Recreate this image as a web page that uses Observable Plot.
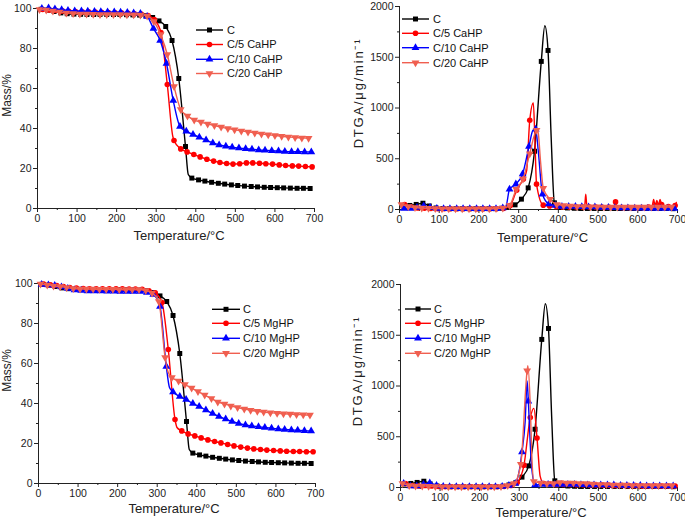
<!DOCTYPE html>
<html><head><meta charset="utf-8">
<script src="https://cdn.jsdelivr.net/npm/d3@7"></script>
<script src="https://cdn.jsdelivr.net/npm/@observablehq/plot@0.6"></script>
<style>
html,body{margin:0;padding:0;background:#fff;}
#root{position:relative;width:685px;height:519px;overflow:hidden;font-family:"Liberation Sans",Arial,sans-serif;}
#root svg{position:absolute;}
</style></head><body><div id="root"></div>
<script>
// ---------- tick labels ----------
const xTicks = [0,100,200,300,400,500,600,700];
const xMinor = [50,150,250,350,450,550,650];
const massTicks = [0,20,40,60,80,100];
const massMinor = [10,30,50,70,90];
const dtgaTicks = [0,500,1000,1500,2000];
const dtgaMinor = [250,750,1250,1750];

// ---------- series names ----------
const caNames = ["C","C/5 CaHP","C/10 CaHP","C/20 CaHP"];
const mgNames = ["C","C/5 MgHP","C/10 MgHP","C/20 MgHP"];

// ---------- marker temperatures (°C) ----------
const gC  = [9,26,42,59,75,92,109,125,142,158,175,192,208,225,241,258,274,291,307,324,340,357,374,390,407,423,440,457,473,490,506,523,540,556,573,589,606,622,639,656,672,689];
const gR  = [13,30,46,63,79,96,113,129,146,162,179,196,212,229,245,262,279,295,312,328,345,362,378,395,411,428,445,461,478,494,511,528,544,561,577,594,611,627,644,660,677,694];
const gB  = [11,28,44,61,77,94,111,127,144,160,177,194,210,227,243,260,277,293,310,326,343,360,376,393,409,426,443,459,476,492,509,526,542,559,575,592,609,625,642,658,675,692];
const gBM = [8,25,41,58,74,91,108,124,141,157,174,191,207,224,240,257,274,290,307,323,340,357,373,390,406,423,440,456,473,489,506,523,539,556,572,589,606,622,639,655,672,689];
const gT  = [5,22,39,56,73,90,107,124,141,158,175,192,209,226,243,260,277,294,311,328,345,362,379,396,413,430,447,464,481,498,515,532,549,566,583,600,617,634,651,668,685];
const gTM = [5,22,38,55,71,88,105,121,138,154,171,188,204,221,237,254,271,287,304,320,337,354,370,387,403,420,437,453,470,486,503,520,536,553,569,586,603,619,636,652,669,686];

// ---------- TGA mass (%) ----------
const tgaC    = [99.6,99.2,98.5,97.8,97.4,97.2,97.1,97.0,97.0,97.0, 97.0,97.0,97.0,96.9,96.8,96.7,96.4,95.5,93.8,91.0, 84.0,65.0,31.0,15.2,14.3,13.7,13.1,12.6,12.2,11.8, 11.5,11.2,11.0,10.8,10.6,10.5,10.4,10.3,10.2,10.1, 10.1,10.0];
const tgaCa5  = [99.5,99.3,99.0,98.8,98.6,98.5,98.4,98.3,98.2,98.1, 98.0,97.9,97.8,97.6,97.4,97.2,96.5,94.5,88.0,62.0, 34.0,29.8,28.3,27.0,25.8,24.6,23.7,23.0,22.5,22.2, 22.4,22.8,22.8,22.6,22.4,22.2,21.8,21.5,21.3,21.2, 21.0,20.8];
const tgaCa10 = [100.0,100.2,99.8,99.4,99.0,98.8,98.7,98.6,98.5,98.4, 98.3,98.2,98.1,98.0,97.8,97.5,96.0,90.0,84.0,72.5, 54.0,41.0,38.6,37.0,35.6,34.2,32.8,31.8,31.1,30.6, 30.2,29.9,29.6,29.3,29.1,28.9,28.7,28.5,28.4,28.4, 28.3,28.3];
const tgaCa20 = [99.5,99.2,98.7,98.2,97.8,97.5,97.3,97.2,97.1,97.0, 97.0,97.0,97.0,96.9,96.9,96.8,96.3,93.5,87.0,77.0, 61.0,49.5,46.3,44.2,43.2,42.3,41.5,40.7,40.0,39.4, 38.8,38.3,37.8,37.3,36.9,36.5,36.1,35.8,35.5,35.3, 35.1];
const tgaMg5  = [99.7,99.3,99.0,98.5,98.0,97.7,97.5,97.4,97.4,97.4, 97.4,97.3,97.3,97.2,97.2,97.1,96.4,95.3,90.5,67.0, 32.0,26.3,24.8,23.8,22.8,21.8,21.0,20.3,19.5,18.8, 18.2,17.7,17.3,17.0,16.7,16.5,16.3,16.1,16.0,16.0, 15.9,15.9];
const tgaMg10 = [99.5,99.3,99.0,98.3,97.5,96.8,96.5,96.3,96.2,96.2, 96.1,96.1,96.0,96.0,96.0,96.0,95.5,94.5,88.5,58.5, 45.8,43.5,42.0,40.0,38.5,36.7,35.0,33.5,32.2,31.0, 30.0,29.3,28.8,28.4,28.0,27.6,27.3,27.0,26.8,26.6, 26.4,26.2];
const tgaMg20 = [99.7,99.3,98.8,98.5,98.0,97.5,97.3,97.2,97.2,97.1, 97.1,97.1,97.0,97.0,97.0,97.0,96.5,95.3,91.0,63.0, 53.0,51.2,49.5,47.7,46.0,44.2,42.5,40.8,39.8,38.8, 38.0,37.2,36.6,36.1,35.7,35.4,35.1,34.9,34.7,34.5, 34.4,34.2];
// extra curve points between markers [T, value]
const tgaCx = [[381,17]];
const tgaCa5x = [[342,36]];
const tgaCa10x = [];
const tgaCa20x = [];
const tgaMg5x = [[350,28]];
const tgaMg10x = [[331,48]];
const tgaMg20x = [[327,56]];

// ---------- DTGA (µg/min) ----------
const dtgaC    = [35,40,50,62,35,15,10,8,8,8, 8,8,8,8,8,12,25,46,102,213, 574,1459,1567,66,20,15,12,10,10,10, 10,10,10,10,10,10,10,10,10,10, 10,8];
const dtgaCa5  = [50,25,15,12,10,8,8,8,8,8, 8,8,8,8,8,10,40,190,300,880, 250,43,35,30,25,25,25,25,25,25, 22,22,75,20,20,20,20,25,40,50, 30,40];
const dtgaCa10 = [10,10,20,35,20,10,8,8,8,8, 8,8,8,8,8,15,200,250,350,620, 790,150,55,40,30,30,30,28,25,25, 20,20,18,15,15,12,12,10,10,10, 10,10];
const dtgaCa20 = [50,30,20,15,12,10,8,8,8,8, 8,8,8,8,10,15,40,200,300,550, 780,210,100,50,40,35,30,30,28,28, 25,25,25,25,25,25,25,25,25,25, 25];
const dtgaMg5  = [40,20,15,20,15,10,8,8,8,8, 8,8,8,8,8,10,20,50,220,690, 487,40,35,30,30,30,28,28,25,25, 25,22,20,20,18,18,15,15,15,15, 15,15];
const dtgaMg10 = [40,15,15,30,45,20,10,8,8,8, 8,8,8,8,8,10,20,40,350,850, 25,30,30,30,30,30,30,28,25,25, 25,25,25,20,20,20,20,15,15,15, 15,15];
const dtgaMg20 = [40,20,15,15,12,10,8,8,8,8, 8,8,8,8,8,10,20,40,230,1150, 60,45,40,40,50,45,45,40,40,35, 30,30,25,25,25,20,20,20,20,20, 20,20];
const dtgaCx = [[366,1810],[382,700]];
const dtgaCa5x = [[320,380],[337,1050],[341,680],[466,25],[469,150],[472,25],[540,20],[548,20],[636,30],[640,100],[643,40],[648,90],[652,40],[656,100],[665,40],[690,30],[697,70]];
const dtgaCa10x = [[268,30],[336,780],[350,550]];
const dtgaCa20x = [[349,760],[355,480]];
const dtgaMg5x = [[337,780],[353,110]];
const dtgaMg10x = [[315,650],[320,1050],[331,220]];
const dtgaMg20x = [[322,1200],[328,800],[332,300]];

// ---------- styles ----------
const triDown = {draw(ctx, size){ const y = -Math.sqrt(size / (Math.sqrt(3) * 3)); const s3 = Math.sqrt(3);
  ctx.moveTo(0, -y * 2); ctx.lineTo(-s3 * y, y); ctx.lineTo(s3 * y, y); ctx.closePath(); }};
const styles = [
  {color: "#000000", symbol: d3.symbolSquare, r: 2.8},
  {color: "#ff0000", symbol: d3.symbolCircle, r: 2.8},
  {color: "#0000ff", symbol: d3.symbolTriangle, r: 2.9},
  {color: "#f05f50", symbol: triDown, r: 2.9}
];
const axisColor = "#222";
const FONT = '"Liberation Sans", Arial, sans-serif';

function series(ts, vs, extra, k) {
  const marks = ts.map((t, i) => ({t, v: vs[i]}));
  const line = marks.concat(extra.map(([t, v]) => ({t, v}))).sort((a, b) => a.t - b.t);
  return {marks, line, ...styles[k]};
}

const root = document.getElementById("root");

function panel(cfg) {
  const marks = [
    Plot.ruleX([0], {stroke: axisColor}),
    Plot.ruleY([cfg.yDomain[0]], {stroke: axisColor}),
    Plot.axisX({ticks: xTicks, tickSize: 4, tickPadding: 2, tickFormat: d => String(d), label: null}),
    Plot.axisX({ticks: xMinor, tickSize: 2, tickFormat: () => "", label: null}),
    Plot.axisY({ticks: cfg.yTicks, tickSize: 4, tickPadding: 2, tickFormat: d => String(d), label: null}),
    Plot.axisY({ticks: cfg.yMinor, tickSize: 2, tickFormat: () => "", label: null}),
    Plot.text([cfg.xTitle], {text: d => d, frameAnchor: "bottom", textAnchor: "middle", dx: cfg.xdx, dy: cfg.xdy, fontSize: 13, lineAnchor: "middle"}),
    Plot.text([cfg.yTitle], {text: d => d, frameAnchor: "left", textAnchor: "middle", rotate: -90, dx: cfg.ydx, dy: cfg.ydy, fontSize: cfg.yfs, lineAnchor: "middle"})
  ];
  cfg.series.forEach(s => {
    marks.push(Plot.line(s.line, {x: "t", y: "v", stroke: s.color, strokeWidth: 1.4, curve: "monotone-x"}));
    marks.push(Plot.dot(s.marks, {x: "t", y: "v", fill: s.color, stroke: "none", symbol: s.symbol, r: s.r}));
  });
  const svg = Plot.plot({
    width: cfg.w, height: cfg.h,
    marginLeft: cfg.ml, marginRight: cfg.mr, marginTop: cfg.mt, marginBottom: cfg.mb,
    x: {domain: [0, 700]},
    y: {domain: cfg.yDomain},
    style: {fontFamily: FONT, fontSize: "10.5px", color: axisColor, background: "transparent", overflow: "visible"},
    marks
  });
  if (cfg.yls) {
    svg.querySelectorAll("text").forEach(t => { if (t.textContent === cfg.yTitle) t.setAttribute("letter-spacing", cfg.yls); });
  }
  svg.style.left = cfg.left + "px";
  svg.style.top = cfg.top + "px";
  root.appendChild(svg);
}

const massTitle = "Mass/%";
const dtgaTitle = "DTGA/\u03bcg/min\u207b\u00b9";
const tTitle = "Temperature/\u00b0C";

panel({left: 0, top: 0, w: 342, h: 245, ml: 37, mr: 28, mt: 8, mb: 37,
  yDomain: [0, 100], yTicks: massTicks, yMinor: massMinor,
  xTitle: tTitle, xdx: 3, xdy: 27, yTitle: massTitle, yfs: 12, ydx: -30, ydy: -13,
  series: [series(gC, tgaC, tgaCx, 0), series(gR, tgaCa5, tgaCa5x, 1), series(gB, tgaCa10, tgaCa10x, 2), series(gT, tgaCa20, tgaCa20x, 3)]});
panel({left: 342, top: 0, w: 343, h: 245, ml: 57, mr: 8, mt: 6, mb: 36,
  yDomain: [0, 2000], yTicks: dtgaTicks, yMinor: dtgaMinor,
  xTitle: tTitle, xdx: 4, xdy: 28, yTitle: dtgaTitle, yfs: 13, yls: "1.8", ydx: -41, ydy: -15,
  series: [series(gC, dtgaC, dtgaCx, 0), series(gR, dtgaCa5, dtgaCa5x, 1), series(gB, dtgaCa10, dtgaCa10x, 2), series(gT, dtgaCa20, dtgaCa20x, 3)]});
panel({left: 0, top: 260, w: 342, h: 259, ml: 38, mr: 27, mt: 23, mb: 36,
  yDomain: [0, 100], yTicks: massTicks, yMinor: massMinor,
  xTitle: tTitle, xdx: -3, xdy: 25, yTitle: massTitle, yfs: 12, ydx: -31, ydy: -13,
  series: [series(gC, tgaC, tgaCx, 0), series(gR, tgaMg5, tgaMg5x, 1), series(gBM, tgaMg10, tgaMg10x, 2), series(gTM, tgaMg20, tgaMg20x, 3)]});
panel({left: 342, top: 260, w: 343, h: 259, ml: 58, mr: 8, mt: 24, mb: 32,
  yDomain: [0, 2000], yTicks: dtgaTicks, yMinor: dtgaMinor,
  xTitle: tTitle, xdx: 2, xdy: 25, yTitle: dtgaTitle, yfs: 13, yls: "1.8", ydx: -43, ydy: -15,
  series: [series(gC, dtgaC, dtgaCx, 0), series(gR, dtgaMg5, dtgaMg5x, 1), series(gBM, dtgaMg10, dtgaMg10x, 2), series(gTM, dtgaMg20, dtgaMg20x, 3)]});

// ---------- legends ----------
const legends = [
  {names: caNames, x0: 196, x1: 223, tx: 227, ys: [30, 44.5, 59.3, 73.5]},
  {names: caNames, x0: 402, x1: 429, tx: 433, ys: [19, 33.3, 47.7, 62.7]},
  {names: mgNames, x0: 212, x1: 240, tx: 243, ys: [309.3, 323.3, 338.3, 353.3]},
  {names: mgNames, x0: 405, x1: 431, tx: 434, ys: [309, 323.3, 338.3, 353.3]}
];
const ov = d3.select(root).append("svg").attr("width", 685).attr("height", 519)
  .style("left", "0px").style("top", "0px");
legends.forEach(L => {
  L.names.forEach((name, i) => {
    const s = styles[i], y = L.ys[i];
    ov.append("line").attr("x1", L.x0).attr("x2", L.x1).attr("y1", y).attr("y2", y)
      .attr("stroke", s.color).attr("stroke-width", 1.4);
    ov.append("path").attr("d", d3.symbol(s.symbol, Math.PI * s.r * s.r)())
      .attr("transform", `translate(${(L.x0 + L.x1) / 2},${y})`).attr("fill", s.color);
    ov.append("text").attr("x", L.tx).attr("y", y).attr("dy", "0.35em")
      .attr("font-family", FONT).attr("font-size", 11)
      .attr("fill", "#111").text(name);
  });
});
</script></body></html>
